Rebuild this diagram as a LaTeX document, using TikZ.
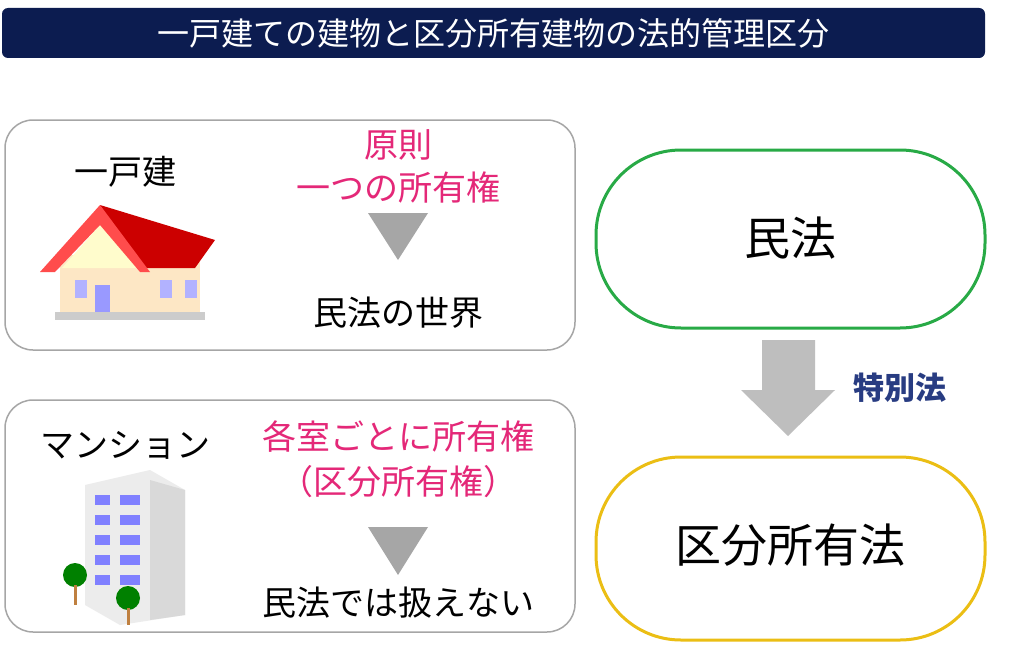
\documentclass[tikz,border=0pt]{standalone}
\usepackage{fontspec}
\setmainfont{Noto Sans CJK JP}
\definecolor{navy}{RGB}{12,28,80}
\definecolor{pinktext}{RGB}{228,40,120}
\definecolor{labelblue}{RGB}{40,60,130}
\definecolor{greenline}{RGB}{40,170,70}
\definecolor{yellowline}{RGB}{235,190,20}
\definecolor{arrowgray}{RGB}{190,190,190}
\tikzset{
  panel/.style={draw=gray!70,line width=1.5pt,rounded corners=28pt},
  lawbox/.style={line width=3pt,rounded corners=85pt},
  tri/.style={fill=gray!70},
  bigtext/.style={font=\fontsize{34}{38}\selectfont},
  pinktxt/.style={bigtext,text=pinktext}
}
\begin{document}
\begin{tikzpicture}[x=1pt,y=-1pt]
\useasboundingbox (0,0) rectangle (1024,650);
\fill[white] (0,0) rectangle (1024,650);
% title
\fill[navy,rounded corners=6pt] (2,8) rectangle (985,58);
\node[text=white,font=\fontsize{32}{34}\selectfont] (title) at (493,33) {一戸建ての建物と区分所有建物の法的管理区分};
% left panels
\draw[panel] (5,120) rectangle (575,350);
\draw[panel] (5,400) rectangle (575,632);
\node[bigtext] (house) at (125,172) {一戸建};
\node[pinktxt] (rule) at (398,145) {原則};
\node[pinktxt] (one) at (398,188) {一つの所有権};
\fill[tri] (368,213) -- (428,213) -- (398,260) -- cycle;
\node[bigtext] (civil1) at (398,313) {民法の世界};
\node[bigtext] (mansion) at (125,445) {マンション};
\node[pinktxt] (each) at (398,437) {各室ごとに所有権};
\node[pinktxt] (unit) at (398,482) {（区分所有権）};
\fill[tri] (368,527) -- (428,527) -- (398,575) -- cycle;
\node[bigtext] (civil2) at (398,603) {民法では扱えない};
% house picture
\fill[yellow!15!orange!20] (60,255) rectangle (200,312);
\fill[red!80!black] (100,205) -- (215,240) -- (195,268) -- (140,268) -- cycle;
\fill[yellow!20] (62,268) -- (100,225) -- (140,268) -- cycle;
\fill[red!70] (40,272) -- (100,205) -- (150,272) -- (140,272) -- (100,225) -- (55,272) -- cycle;
\fill[gray!40] (55,312) rectangle (205,320);
\foreach \x in {75,160,185}{\fill[blue!30] (\x,280) rectangle (\x+12,298);}
\fill[blue!40] (95,285) rectangle (110,312);
% building picture
\fill[gray!15] (85,485) -- (150,470) -- (185,490) -- (185,615) -- (120,625) -- (85,605) -- cycle;
\fill[gray!30] (150,480) -- (185,490) -- (185,615) -- (150,620) -- cycle;
\foreach \y in {495,515,535,555,575}{
  \fill[blue!50] (95,\y) rectangle (110,\y+10);
  \fill[blue!50] (120,\y) rectangle (140,\y+10);}
\fill[green!50!black] (75,575) circle (12);
\fill[brown] (74,585) rectangle (77,605);
\fill[green!50!black] (128,598) circle (12);
\fill[brown] (127,608) rectangle (130,625);
% law boxes
\draw[lawbox,draw=greenline] (596,150) rectangle (985,328);
\node[font=\fontsize{46}{50}\selectfont] (civil) at (790,238) {民法};
\draw[lawbox,draw=yellowline] (596,457) rectangle (985,640);
\node[font=\fontsize{46}{50}\selectfont] (condo) at (790,545) {区分所有法};
% arrow
\fill[arrowgray] (762,340) -- (815,340) -- (815,390) -- (835,390) -- (788,436) -- (741,390) -- (762,390) -- cycle;
\node[text=labelblue,font=\bfseries\fontsize{31}{34}\selectfont] (special) at (900,388) {特別法};
\end{tikzpicture}
\end{document}
